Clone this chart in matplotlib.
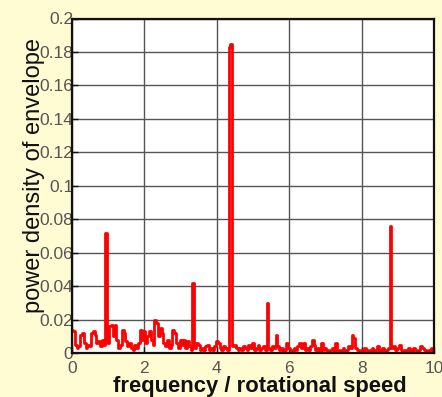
import numpy as np
import matplotlib
matplotlib.use("Agg")
import matplotlib.pyplot as plt

# frequency / rotational speed, step 0.05 from 0 to 10
freq_start, freq_step = 0.0, 0.05
# envelope power density values (x 0.001)
vals_0 = [14, 13, 5, 3, 4, 11, 12, 6, 3, 5, 4, 12, 13, 11, 6, 7, 4, 8, 5, 72]
vals_1 = [6, 16, 17, 10, 17, 8, 3, 5, 14, 12, 7, 4, 6, 3, 2, 5, 3, 6, 14, 8]
vals_2 = [13, 6, 10, 13, 8, 5, 20, 18, 10, 15, 12, 6, 4, 8, 3, 5, 14, 12, 6, 3]
vals_3 = [8, 5, 8, 3, 7, 4, 2, 42, 3, 6, 5, 2, 3, 2, 4, 5, 2, 3, 2, 4]
vals_4 = [7, 6, 3, 2, 4, 3, 2, 183, 185, 4, 5, 3, 2, 3, 2, 4, 3, 2, 5, 3]
vals_5 = [6, 2, 3, 5, 2, 3, 4, 2, 30, 3, 2, 4, 3, 11, 4, 2, 3, 1, 2, 6]
vals_6 = [3, 2, 1, 3, 2, 4, 6, 3, 6, 2, 3, 2, 4, 8, 5, 2, 3, 1, 6, 2]
vals_7 = [3, 2, 1, 2, 3, 1, 6, 2, 1, 2, 3, 1, 2, 4, 3, 11, 9, 3, 2, 1]
vals_8 = [2, 1, 3, 2, 1, 2, 3, 1, 2, 4, 1, 2, 3, 1, 2, 3, 76, 3, 4, 2]
vals_9 = [3, 5, 2, 1, 2, 1, 3, 2, 1, 3, 2, 1, 2, 4, 3, 2, 1, 2, 1, 3, 2]

xticks = [0, 2, 4, 6, 8, 10]
xtick_labels = ["0", "2", "4", "6", "8", "10"]
yticks = [0, 0.02, 0.04, 0.06, 0.08, 0.1, 0.12, 0.14, 0.16, 0.18, 0.2]
ytick_labels = ["0", "0.02", "0.04", "0.06", "0.08", "0.1", "0.12", "0.14", "0.16", "0.18", "0.2"]

vals = np.array(vals_0 + vals_1 + vals_2 + vals_3 + vals_4 + vals_5 + vals_6 + vals_7 + vals_8 + vals_9) * 0.001
freq = freq_start + freq_step * np.arange(len(vals))

bg = "#FFFBD2"
fig = plt.figure(figsize=(4.42, 3.97), dpi=100, facecolor=bg)
ax = fig.add_axes([72/442, 1 - 353/397, (434-72)/442, (353-18.5)/397])
ax.set_facecolor("white")
ax.plot(freq, vals, color="#FF0000", lw=2.0, drawstyle="steps-mid")
ax.set_xlim(0, 10)
ax.set_ylim(0, 0.2)
ax.set_xticks(xticks)
ax.set_xticklabels(xtick_labels)
ax.set_yticks(yticks)
ax.set_yticklabels(ytick_labels)
ax.grid(True, color="#555555", lw=1.0)
ax.set_axisbelow(True)
for s in ax.spines.values():
    s.set_linewidth(1.6)
    s.set_color("#111111")
ax.tick_params(axis="both", direction="in", length=4, width=1, colors="#111111",
               labelcolor="#555555", labelsize=12.5)
ax.tick_params(axis="y", pad=-1)
ax.tick_params(axis="x", pad=6)
for t in ax.get_yticklabels() + ax.get_xticklabels():
    t.set_family("Liberation Sans")
ax.set_xlabel("frequency / rotational speed", family="Liberation Sans", fontsize=15.8,
              fontweight="bold", color="#111111")
ax.xaxis.set_label_coords(0.52, -0.068)
ax.set_ylabel("power density of envelope", family="Liberation Sans", fontsize=17,
              color="#111111")
ax.yaxis.set_label_coords(-0.075, 0.532)
fig.savefig("out.png", dpi=100, facecolor=bg)
